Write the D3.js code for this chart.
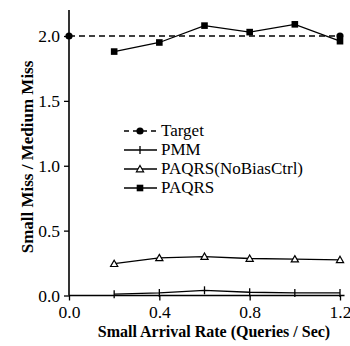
<!DOCTYPE html>
<html><head><meta charset="utf-8">
<script src="https://cdn.jsdelivr.net/npm/d3@7"></script>
<style>body{margin:0;background:#fff}svg{display:block}</style>
</head><body>
<svg id="c" width="350" height="346" font-family="Liberation Serif"></svg>
<script>
const xValues = [0.2, 0.4, 0.6, 0.8, 1.0, 1.2];
const targetX = [0.0, 1.2];
const targetY = [2.0, 2.0];
const pmm = [0.01, 0.02, 0.04, 0.025, 0.02, 0.02];
const noBias = [0.245, 0.29, 0.30, 0.285, 0.28, 0.275];
const paqrs = [1.88, 1.95, 2.08, 2.03, 2.09, 1.96];
const xTicks = [0.0, 0.4, 0.8, 1.2];
const yTicks = [0.0, 0.5, 1.0, 1.5, 2.0];
const legendLabels = ["Target", "PMM", "PAQRS(NoBiasCtrl)", "PAQRS"];

const svg = d3.select("#c");
const font = "Liberation Serif";
const x = d3.scaleLinear().domain([0, 1.2]).range([69, 340]);
const y = d3.scaleLinear().domain([0, 2.0]).range([295.5, 36]);

// axes
const xa = svg.append("g").attr("transform", `translate(0,${y(0)})`)
  .call(d3.axisBottom(x).tickValues(xTicks).tickFormat(d3.format(".1f")).tickSize(5).tickSizeOuter(0));
const ya = svg.append("g").attr("transform", `translate(${x(0)},0)`)
  .call(d3.axisLeft(y).tickValues(yTicks).tickFormat(d3.format(".1f")).tickSize(5).tickSizeOuter(0));
[xa, ya].forEach(a => {
  a.attr("font-family", font);
  a.select(".domain").remove();
  a.selectAll("line").attr("stroke", "#000").attr("stroke-width", 1.3);
  a.selectAll("text").attr("font-family", font).attr("font-size", 17.5).attr("fill", "#000");
});
xa.selectAll("text").attr("dy", "0.85em");
ya.selectAll("text").attr("dx", "-1");
svg.append("line").attr("x1", x(0)).attr("x2", x(0)).attr("y1", y(2.2)).attr("y2", y(0))
  .attr("stroke", "#000").attr("stroke-width", 1.6);
svg.append("line").attr("x1", x(0)).attr("x2", x(1.22)).attr("y1", y(0)).attr("y2", y(0))
  .attr("stroke", "#000").attr("stroke-width", 1.6);

// titles
svg.append("text").attr("x", 214).attr("y", 337)
  .attr("text-anchor", "middle").attr("font-family", font).attr("font-weight", "bold")
  .attr("font-size", 16).text("Small Arrival Rate (Queries / Sec)");
svg.append("text").attr("transform", "translate(33,157) rotate(-90)")
  .attr("text-anchor", "middle").attr("font-family", font).attr("font-weight", "bold")
  .attr("font-size", 17).text("Small Miss / Medium Miss");

const line = d3.line().x(d => x(d[0])).y(d => y(d[1]));
function series(xs, ys, dash) {
  svg.append("path").datum(xs.map((v, i) => [v, ys[i]])).attr("d", line)
    .attr("fill", "none").attr("stroke", "#000").attr("stroke-width", dash ? 1.5 : 1.3)
    .attr("stroke-dasharray", dash ? "6,4" : null);
}
function marker(kind, cx, cy) {
  if (kind === "circle") svg.append("circle").attr("cx", cx).attr("cy", cy).attr("r", 3.6).attr("fill", "#000");
  else if (kind === "plus") {
    svg.append("line").attr("x1", cx).attr("x2", cx).attr("y1", cy - 4).attr("y2", cy + 4).attr("stroke", "#000").attr("stroke-width", 1.3);
  } else if (kind === "tri") {
    svg.append("path").attr("d", `M${cx},${cy - 3.5}L${cx + 3.6},${cy + 2.8}L${cx - 3.6},${cy + 2.8}Z`)
      .attr("fill", "#fff").attr("stroke", "#000").attr("stroke-width", 1.2);
  } else if (kind === "square") {
    svg.append("rect").attr("x", cx - 3.3).attr("y", cy - 3.3).attr("width", 6.6).attr("height", 6.6).attr("fill", "#000");
  }
}

series(targetX, targetY, true);
targetX.forEach((v, i) => marker("circle", x(v), y(targetY[i])));
series(xValues, pmm, false);
xValues.forEach((v, i) => marker("plus", x(v), y(pmm[i])));
series(xValues, noBias, false);
xValues.forEach((v, i) => marker("tri", x(v), y(noBias[i])));
series(xValues, paqrs, false);
xValues.forEach((v, i) => marker("square", x(v), y(paqrs[i])));

// legend
const kinds = ["circle", "plus", "tri", "square"];
legendLabels.forEach((lab, i) => {
  const ly = 131 + i * 19;
  svg.append("line").attr("x1", 124).attr("x2", 157).attr("y1", ly).attr("y2", ly)
    .attr("stroke", "#000").attr("stroke-width", i === 0 ? 1.5 : 1.3)
    .attr("stroke-dasharray", i === 0 ? "5,4" : null);
  marker(kinds[i], 140, ly);
  svg.append("text").attr("x", 161).attr("y", ly + 5).attr("font-family", font)
    .attr("font-size", 17).text(lab);
});
</script>
</body></html>
